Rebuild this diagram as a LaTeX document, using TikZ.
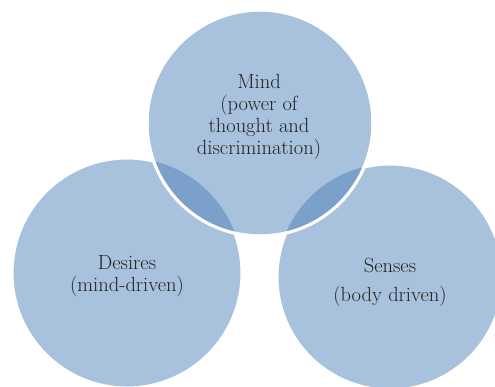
\documentclass[tikz,border=0pt]{standalone}
\usepackage{tikz}
\definecolor{bubblefill}{HTML}{A8C1DD}
\definecolor{lensfill}{HTML}{7BA1CB}
\definecolor{labeltext}{HTML}{222222}

\begin{document}
\begin{tikzpicture}[x=1pt, y=-1pt, bubble/.style={circle, fill=bubblefill, draw=white, line width=3pt, inner sep=0pt}, bubbletext/.style={text=labeltext, align=center, font=\fontsize{20.5}{22}\selectfont}]
  \useasboundingbox (0,0) rectangle (495,386);
  % the three circles
  \node[bubble, minimum size=230pt] (desires) at (127,273) {};
  \node[bubble, minimum size=226pt] (senses) at (390,277) {};
  \node[bubble, minimum size=226pt] (mind) at (260,123) {};
  % darker overlaps
  \begin{scope}
    \clip (mind.center) circle[radius=113];
    \fill[lensfill] (desires.center) circle[radius=115];
    \fill[lensfill] (senses.center) circle[radius=113];
  \end{scope}
  \draw[white, line width=3pt] (mind.center) circle[radius=113];
  % labels
  \node[bubbletext] (mind text) at (259,117) {Mind\\(power of\\thought and\\discrimination)};
  \node[bubbletext] (desires text) at (127,276) {Desires\\(mind-driven)};
  \node[bubbletext] (senses text) at (390,282) {Senses\\[7pt](body driven)};
\end{tikzpicture}
\end{document}
